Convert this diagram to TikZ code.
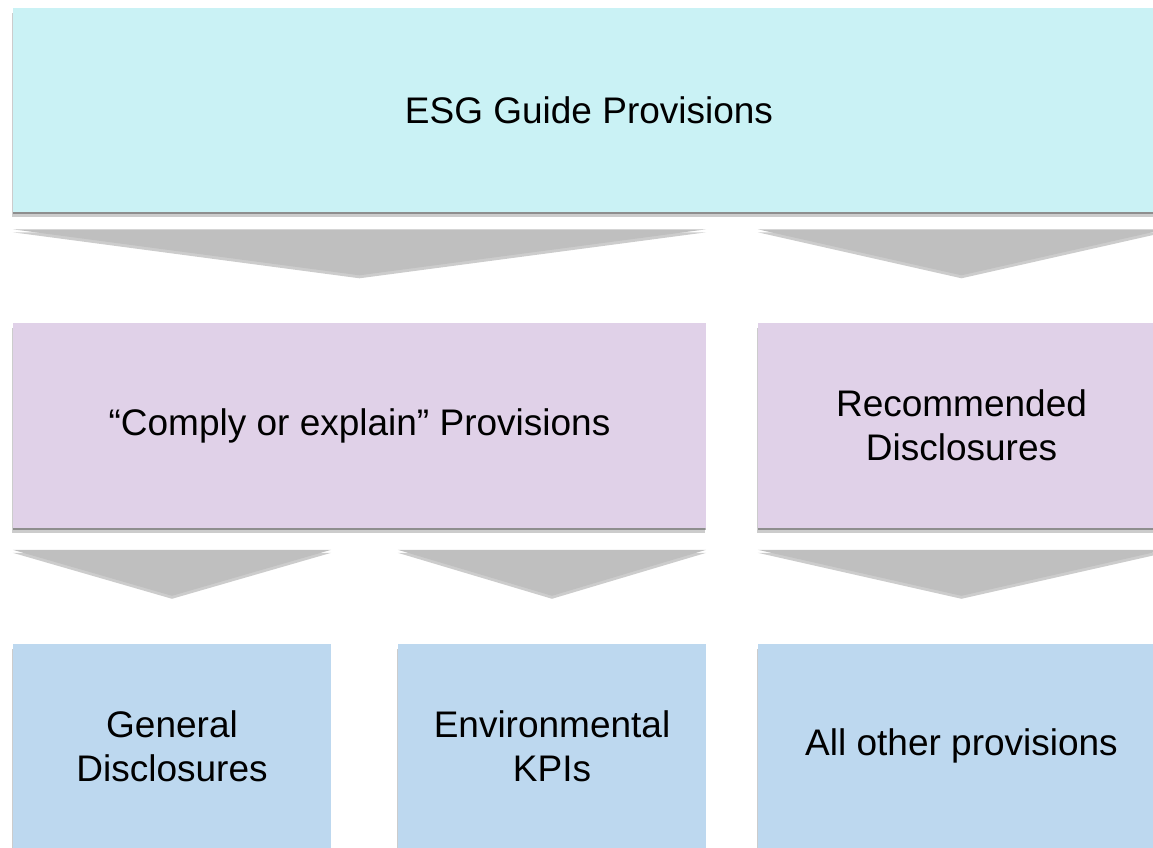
\documentclass[tikz,border=0pt]{standalone}
\usepackage{fontspec}
\setmainfont{Liberation Sans}
\usetikzlibrary{calc,shadows}

\definecolor{esgcyan}{HTML}{CAF2F5}
\definecolor{esgpurple}{HTML}{E0D1E8}
\definecolor{esgblue}{HTML}{BDD8EF}
\definecolor{chevgray}{HTML}{BFBFBF}

\tikzset{
  box/.style={rectangle, inner sep=0pt, minimum height=204pt, align=center,
    font=\fontsize{37}{44}\selectfont,
    drop shadow={shadow xshift=-1pt, shadow yshift=-5pt, opacity=0.2, fill=black},
    drop shadow={shadow xshift=0pt, shadow yshift=-2.5pt, opacity=0.3, fill=black}},
  chev/.style={fill=chevgray,
    drop shadow={shadow xshift=0pt, shadow yshift=-3pt, opacity=0.2, fill=black}}
}
% chevron sitting above the box it points to
\newcommand\chevron[1]{%
  \fill[chev] ($(#1.north west)+(0,94)$) -- ($(#1.north east)+(0,94)$)
    -- ($(#1.north)+(0,48)$) -- cycle;}

\begin{document}
\begin{tikzpicture}[x=1pt,y=1pt]
\useasboundingbox (0,0) rectangle (1153,847);
\clip (0,0) rectangle (1153,847);
\node[box,fill=esgcyan,minimum width=1152pt] (esg) at (589,737) {ESG Guide Provisions};
\node[box,fill=esgpurple,minimum width=693pt] (comply) at (359.5,421.5) {“Comply or explain” Provisions};
\node[box,fill=esgpurple,minimum width=407pt] (recom) at (961.5,421.5) {Recommended\\Disclosures};
\node[box,fill=esgblue,minimum width=318pt] (general) at (172,101) {General\\Disclosures};
\node[box,fill=esgblue,minimum width=308pt] (enviro) at (552,101) {Environmental\\KPIs};
\node[box,fill=esgblue,minimum width=407pt] (other) at (961.5,101) {All other provisions};
\chevron{comply}
\chevron{recom}
\chevron{general}
\chevron{enviro}
\chevron{other}
\end{tikzpicture}
\end{document}
